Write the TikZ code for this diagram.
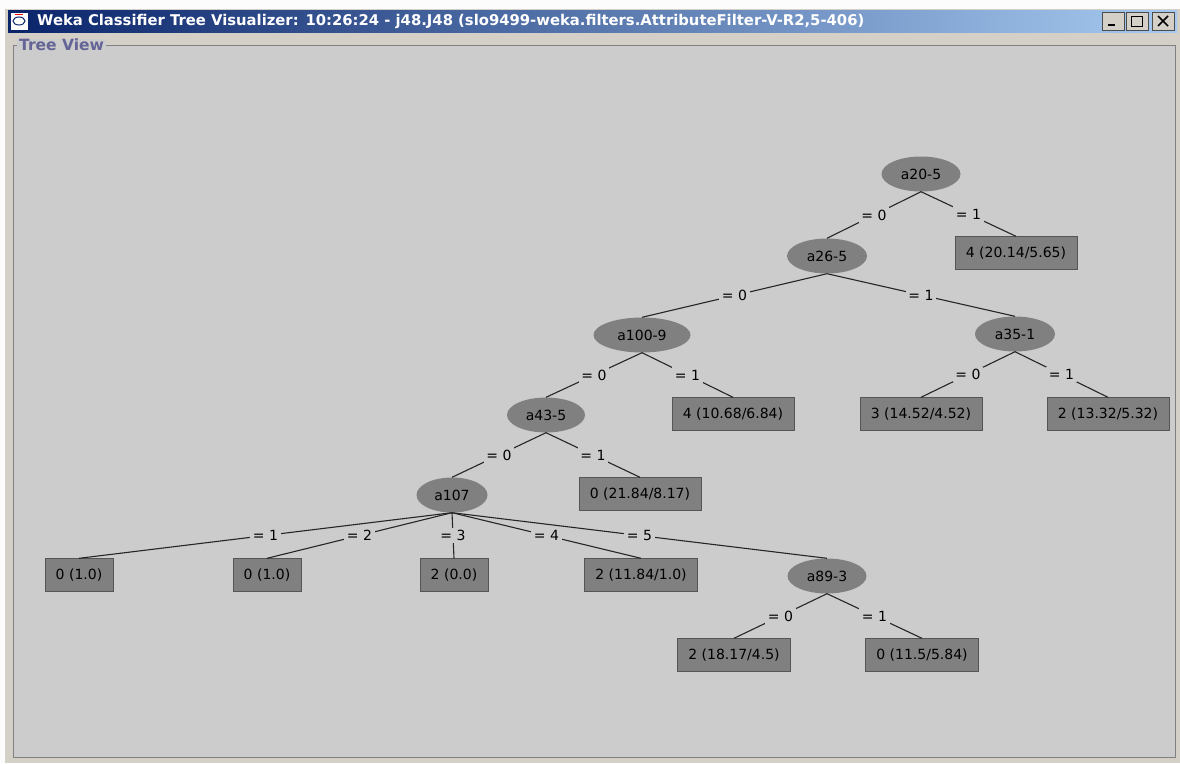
\documentclass[tikz,border=0pt]{standalone}
\usepackage{fontspec}
\setmainfont{DejaVu Sans}
\usepackage{tikz}
\usetikzlibrary{shapes.geometric}
\definecolor{panelbg}{RGB}{204,204,204}
\definecolor{winbg}{RGB}{212,208,200}
\definecolor{nodegray}{RGB}{128,128,128}
\definecolor{boxedge}{RGB}{85,85,85}
\definecolor{titledark}{RGB}{10,36,106}
\definecolor{titlelight}{RGB}{166,202,240}
\definecolor{viewtitle}{RGB}{100,100,150}

\begin{document}
\begin{tikzpicture}[x=1pt,y=-1pt,
		attr/.style={ellipse,fill=nodegray,minimum height=35,inner sep=0pt,font=\fontsize{14}{16}\selectfont},
		leaf/.style={rectangle,fill=nodegray,draw=boxedge,minimum height=33,minimum width=63,inner xsep=11pt,font=\fontsize{14}{16}\selectfont},
		lbl/.style={fill=panelbg,inner sep=2.5pt,font=\fontsize{14}{16}\selectfont},
		branch/.style={draw=black!85,line width=1.1pt},
		winbutton/.style={rectangle,fill=winbg,draw=gray!60!black,minimum width=22,minimum height=18,inner sep=0pt}]
		
		\useasboundingbox (0,0) rectangle (1180,763);
		\fill[winbg] (0,0) rectangle (1180,763);
		\fill[white!94!winbg] (0,0) rectangle (1180,9);
		\fill[white!94!winbg] (0,0) rectangle (5,763);
		\shade[left color=titledark,right color=titlelight] (8,10) rectangle (1177,32);
		\node[draw=titledark,fill=white,minimum size=18,inner sep=0pt] (Icon) at (19,21) {};
		\draw[red,line width=1pt] (Icon.north west) ++(5,3) -- ++(8,0);
		\draw[titledark,line width=1pt] (Icon.center) ellipse (6 and 4);
		\node[anchor=west,text=white,font=\fontsize{14.8}{16}\bfseries\selectfont,inner sep=0pt] (Title) at (37,21)
		{Weka Classifier Tree Visualizer: 10:26:24 - j48.J48 (slo9499-weka.filters.AttributeFilter-V-R2,5-406)};
		\node[winbutton] (Min) at (1113,21) {};
		\node[winbutton] (Max) at (1137,21) {};
		\node[winbutton] (Close) at (1163,21) {};
		\draw[line width=2pt] ([xshift=-5,yshift=-4]Min.center) -- ([xshift=2,yshift=-4]Min.center);
		\draw[line width=1pt] ([xshift=-6,yshift=-5]Max.center) rectangle ([xshift=5,yshift=5]Max.center);
		\draw[line width=1.6pt] ([xshift=-5,yshift=-5]Close.center) -- ([xshift=5,yshift=5]Close.center)
		([xshift=-5,yshift=5]Close.center) -- ([xshift=5,yshift=-5]Close.center);
		
		\filldraw[fill=panelbg,draw=gray,line width=1pt] (13,45) rectangle (1175,757);
		\node[anchor=west,fill=panelbg,text=viewtitle,inner xsep=2pt,inner ysep=0pt,font=\fontsize{15.5}{17}\bfseries\selectfont] (View) at (17,45) {Tree View};
		
		\node[attr,minimum width=79] (a20) at (921,174) {a20-5};
		\node[attr,minimum width=80] (a26) at (827,256) {a26-5};
		\node[leaf] (l1) at (1016,253) {4 (20.14/5.65)};
		\node[attr,minimum width=97] (a100) at (642,335) {a100-9};
		\node[attr,minimum width=80] (a35) at (1015,334) {a35-1};
		\node[attr,minimum width=78] (a43) at (546,415) {a43-5};
		\node[leaf] (l2) at (733,414) {4 (10.68/6.84)};
		\node[leaf] (l3) at (921,414) {3 (14.52/4.52)};
		\node[leaf] (l4) at (1108,414) {2 (13.32/5.32)};
		\node[attr,minimum width=71] (a107) at (452,495) {a107};
		\node[leaf] (l5) at (640,494) {0 (21.84/8.17)};
		\node[leaf] (l6) at (79,575) {0 (1.0)};
		\node[leaf] (l7) at (267,575) {0 (1.0)};
		\node[leaf] (l8) at (454,575) {2 (0.0)};
		\node[leaf] (l9) at (641,575) {2 (11.84/1.0)};
		\node[attr,minimum width=79] (a89) at (827,576) {a89-3};
		\node[leaf] (l10) at (734,655) {2 (18.17/4.5)};
		\node[leaf] (l11) at (922,655) {0 (11.5/5.84)};
		
		\draw[branch] (a20.south) -- node[lbl] {= 0} (a26.north);
		\draw[branch] (a20.south) -- node[lbl] {= 1} (l1.north);
		\draw[branch] (a26.south) -- node[lbl] {= 0} (a100.north);
		\draw[branch] (a26.south) -- node[lbl] {= 1} (a35.north);
		\draw[branch] (a100.south) -- node[lbl] {= 0} (a43.north);
		\draw[branch] (a100.south) -- node[lbl] {= 1} (l2.north);
		\draw[branch] (a35.south) -- node[lbl] {= 0} (l3.north);
		\draw[branch] (a35.south) -- node[lbl] {= 1} (l4.north);
		\draw[branch] (a43.south) -- node[lbl] {= 0} (a107.north);
		\draw[branch] (a43.south) -- node[lbl] {= 1} (l5.north);
		\draw[branch] (a107.south) -- node[lbl] {= 1} (l6.north);
		\draw[branch] (a107.south) -- node[lbl] {= 2} (l7.north);
		\draw[branch] (a107.south) -- node[lbl] {= 3} (l8.north);
		\draw[branch] (a107.south) -- node[lbl] {= 4} (l9.north);
		\draw[branch] (a107.south) -- node[lbl] {= 5} (a89.north);
		\draw[branch] (a89.south) -- node[lbl] {= 0} (l10.north);
		\draw[branch] (a89.south) -- node[lbl] {= 1} (l11.north);
		
\end{tikzpicture}
\end{document}
